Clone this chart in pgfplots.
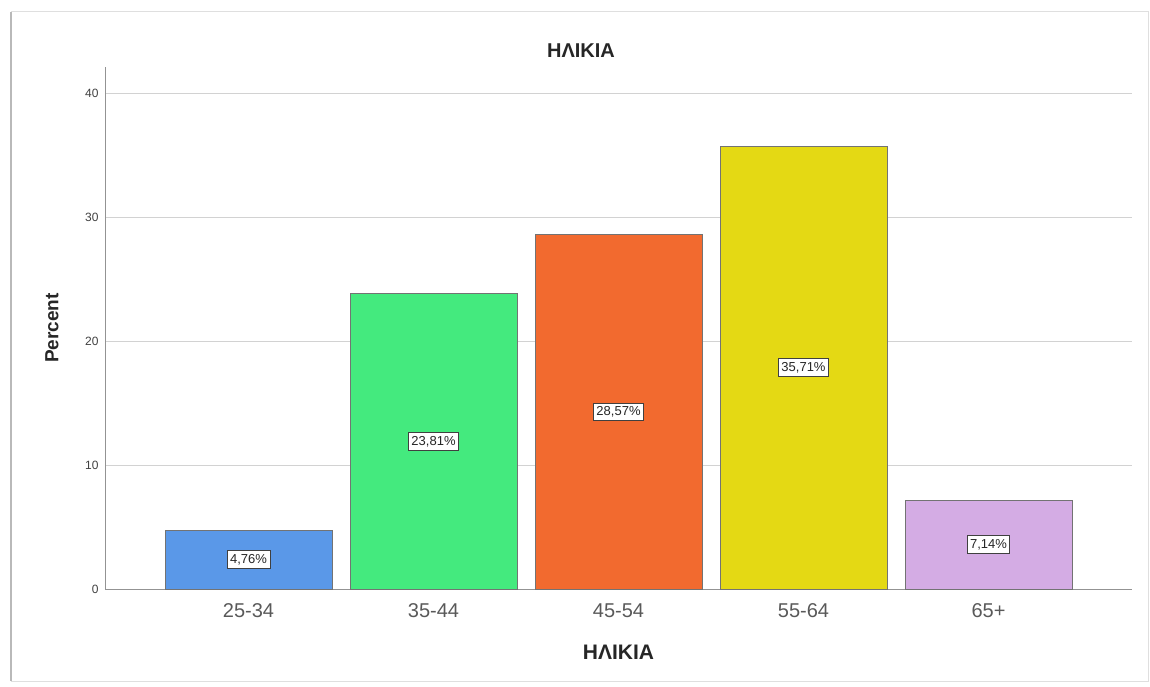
\documentclass[border=0pt]{standalone}
\usepackage{pgfplots}
\pgfplotsset{compat=1.18}
\usepackage{fontspec}
\setmainfont{Liberation Sans}
\definecolor{cblue}{RGB}{90,152,232}
\definecolor{cgreen}{RGB}{68,234,126}
\definecolor{corange}{RGB}{242,106,47}
\definecolor{cyellow}{RGB}{228,217,20}
\definecolor{clilac}{RGB}{212,172,228}
\begin{document}
\begin{tikzpicture}[x=1pt,y=1pt]
\useasboundingbox (0,0) rectangle (1150,686);
\draw[gray!25, line width=1pt] (11,5) rectangle (1148,674);
\draw[gray!55, line width=2.5pt] (11,5) -- (11,674);
\begin{axis}[
  at={(105pt,97pt)}, anchor=south west,
  scale only axis, width=1027pt, height=522pt,
  xmin=-0.776, xmax=4.776, ymin=0, ymax=42.1,
  axis x line*=bottom, axis y line*=left,
  axis line style={draw=gray!85, line width=1pt},
  ytick={0,10,20,30,40}, major tick length=0pt,
  ymajorgrids, grid style={gray!35, line width=0.8pt},
  xtick={0,1,2,3,4},
  xticklabels={25-34,35-44,45-54,55-64,65+},
  /pgf/number format/assume math mode=true,
  yticklabel style={font=\fontsize{12}{14}\selectfont, text=black!75, xshift=-3pt},
  xticklabel style={font=\fontsize{20}{23}\selectfont, text=black!65, yshift=-11pt},
  title={ΗΛΙΚΙΑ},
  title style={at={(rel axis cs:0.4635,1.0326)}, anchor=center, yshift=-7pt, font=\bfseries\fontsize{20}{23}\selectfont, text=black!85},
  xlabel={ΗΛΙΚΙΑ},
  xlabel style={at={(rel axis cs:0.5,-0.1207)}, anchor=center, font=\bfseries\fontsize{21}{24}\selectfont, text=black!85},
  ylabel={Percent},
  ylabel style={at={(rel axis cs:-0.0516,0.5)}, anchor=center, font=\bfseries\fontsize{19}{22}\selectfont, text=black!85},
  ybar, bar width=167pt, bar shift=0pt,
  visualization depends on={rawy/2 \as \half},
  nodes near coords align={center},
  every node near coord/.append style={anchor=center, fill=white, draw=black!75, line width=0.9pt, inner xsep=3pt, inner ysep=3.5pt, font=\fontsize{13}{15}\selectfont, text=black!85, shift={(axis direction cs:0,-\half)}},
  clip=false,
]
\addplot[fill=cblue, draw=black!55, line width=0.8pt, nodes near coords={4,76\%}] coordinates {(0,4.76)};
\addplot[fill=cgreen, draw=black!55, line width=0.8pt, nodes near coords={23,81\%}] coordinates {(1,23.81)};
\addplot[fill=corange, draw=black!55, line width=0.8pt, nodes near coords={28,57\%}] coordinates {(2,28.57)};
\addplot[fill=cyellow, draw=black!55, line width=0.8pt, nodes near coords={35,71\%}] coordinates {(3,35.71)};
\addplot[fill=clilac, draw=black!55, line width=0.8pt, nodes near coords={7,14\%}] coordinates {(4,7.14)};
\end{axis}
\end{tikzpicture}
\end{document}
